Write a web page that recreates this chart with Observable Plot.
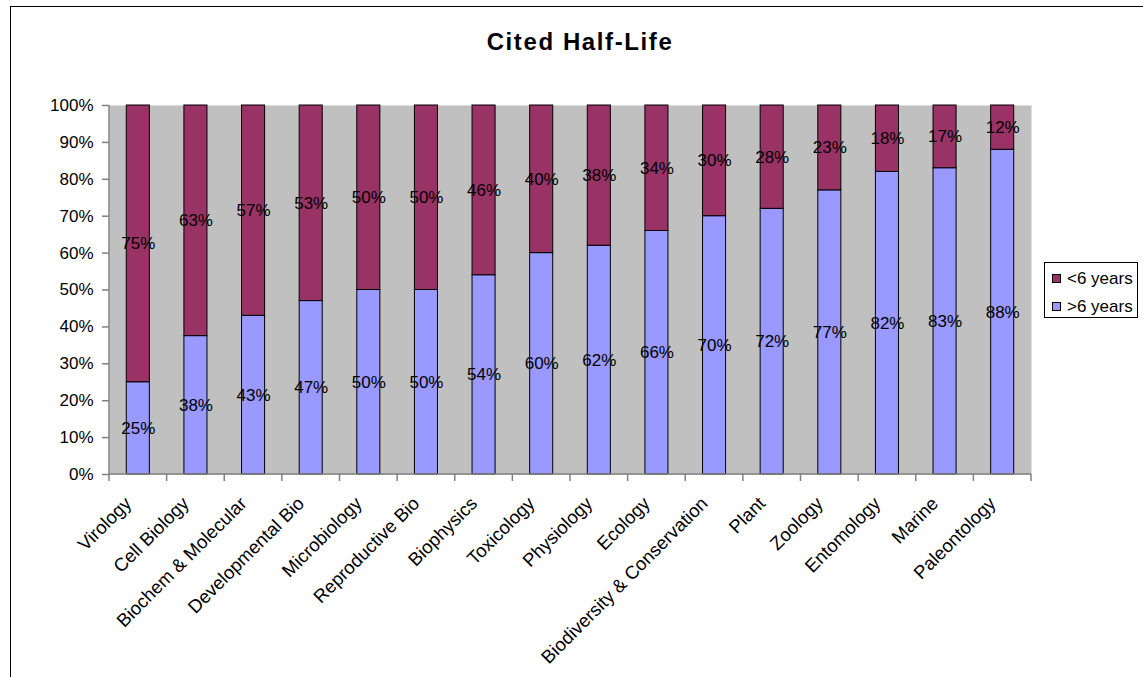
<!DOCTYPE html>
<html>
<head>
<meta charset="utf-8">
<script src="https://cdn.jsdelivr.net/npm/d3@7"></script>
<script src="https://cdn.jsdelivr.net/npm/@observablehq/plot@0.6"></script>
<style>
  html, body { margin: 0; padding: 0; background: #fff; }
  #wrap { position: relative; width: 1143px; height: 677px; overflow: hidden; font-family: "Liberation Sans", Arial, sans-serif; }
  #frame { position: absolute; left: 10px; top: 6px; width: 1200px; height: 800px; border-left: 1.5px solid #000; border-top: 1.5px solid #000; }
  #title { position: absolute; left: 0; width: 1160px; top: 30px; line-height: 24px; text-align: center; font-weight: bold; font-size: 24px; letter-spacing: 1.6px; }
  #chart { position: absolute; left: 0; top: 0; }
  #legend { position: absolute; left: 1044px; top: 262px; width: 94px; height: 56px; border: 1px solid #000; background: #fff; font-size: 17px; box-sizing: border-box; }
  #legend .item { position: absolute; left: 7px; height: 20px; line-height: 20px; white-space: nowrap; }
  #legend span.sw { display: inline-block; width: 7px; height: 7px; border: 1px solid #000; margin-right: 6px; vertical-align: 1px; }
</style>
</head>
<body>
<div id="wrap">
  <div id="frame"></div>
  <div id="chart"></div>
  <div id="title">Cited Half-Life</div>
  <div id="legend"></div>
</div>
<script>
// Disciplines, ordered as on the axis
const fields = ["Virology", "Cell Biology", "Biochem & Molecular", "Developmental Bio", "Microbiology",
  "Reproductive Bio", "Biophysics", "Toxicology", "Physiology", "Ecology", "Biodiversity & Conservation",
  "Plant", "Zoology", "Entomology", "Marine", "Paleontology"];
// Share of citations older than six years (%)
const over6 = [25, 37.5, 43, 47, 50, 50, 54, 60, 62, 66, 70, 72, 77, 82, 83, 88];
// Share of citations younger than six years (%)
const under6 = [75, 62.5, 57, 53, 50, 50, 46, 40, 38, 34, 30, 28, 23, 18, 17, 12];
const seriesNames = [">6 years", "<6 years"];
const seriesColors = ["#9999FF", "#993366"];
const yTicks = [0, 10, 20, 30, 40, 50, 60, 70, 80, 90, 100];

const rows = [];
fields.forEach((f, i) => {
  rows.push({field: f, series: seriesNames[0], value: over6[i]});
  rows.push({field: f, series: seriesNames[1], value: under6[i]});
});

const stackOpts = {x: "field", y: "value", z: "series", order: seriesNames};
const axisColor = "#808080";

// Axis lines, and category tick marks placed between the bars
function axisLines(index, scales, values, dims) {
  const g = d3.create("svg:g").attr("stroke", axisColor).attr("stroke-width", 1.5).attr("fill", "none");
  const left = dims.marginLeft, right = dims.width - dims.marginRight;
  const top = dims.marginTop, bottom = dims.height - dims.marginBottom;
  g.append("line").attr("x1", left).attr("x2", left).attr("y1", top).attr("y2", bottom);
  g.append("line").attr("x1", left).attr("x2", right).attr("y1", bottom).attr("y2", bottom);
  const bw = scales.x.bandwidth();
  const centers = fields.map(f => scales.x(f) + bw / 2);
  const step = centers[1] - centers[0];
  const bounds = [centers[0] - step / 2, ...centers.map(c => c + step / 2)];
  bounds.forEach(b => g.append("line").attr("x1", b).attr("x2", b).attr("y1", bottom).attr("y2", bottom + 7));
  return g.node();
}

const plot = Plot.plot({
  width: 1143,
  height: 677,
  marginLeft: 109,
  marginRight: 112,
  marginTop: 105,
  marginBottom: 203,
  style: {fontFamily: "Liberation Sans, Arial, sans-serif", fontSize: "17px", background: "transparent"},
  x: {domain: fields, label: null, paddingInner: 0.6, paddingOuter: 0.3, round: false},
  y: {domain: [0, 100], ticks: yTicks, tickFormat: d => d + "%", label: null},
  color: {domain: seriesNames, range: seriesColors},
  marks: [
    Plot.frame({fill: "#C0C0C0", stroke: null}),
    Plot.barY(rows, Plot.stackY({...stackOpts, fill: "series", stroke: "#000", strokeWidth: 1})),
    Plot.text(rows, Plot.stackY({...stackOpts, text: d => Math.round(d.value) + "%", fontSize: 17, fill: "#000"})),
    axisLines,
    Plot.axisY({ticks: yTicks, tickFormat: d => d + "%", tickSize: 7, tickPadding: 9, stroke: axisColor, strokeWidth: 1.5, fill: "#000", fontSize: 17, label: null}),
    Plot.axisX({tickSize: 0, tickRotate: -45, tickPadding: 26, dx: -10, fontSize: 18.5, label: null, fill: "#000", tickFormat: d => d})
  ]
});
document.getElementById("chart").appendChild(plot);

// Legend, top entry is the upper stack segment
const legend = document.getElementById("legend");
[[seriesNames[1], seriesColors[1]], [seriesNames[0], seriesColors[0]]].forEach(([name, color], i) => {
  const row = document.createElement("div");
  row.className = "item";
  row.style.top = (6 + i * 28) + "px";
  const sw = document.createElement("span");
  sw.className = "sw";
  sw.style.background = color;
  row.appendChild(sw);
  row.appendChild(document.createTextNode(name));
  legend.appendChild(row);
});
</script>
</body>
</html>
